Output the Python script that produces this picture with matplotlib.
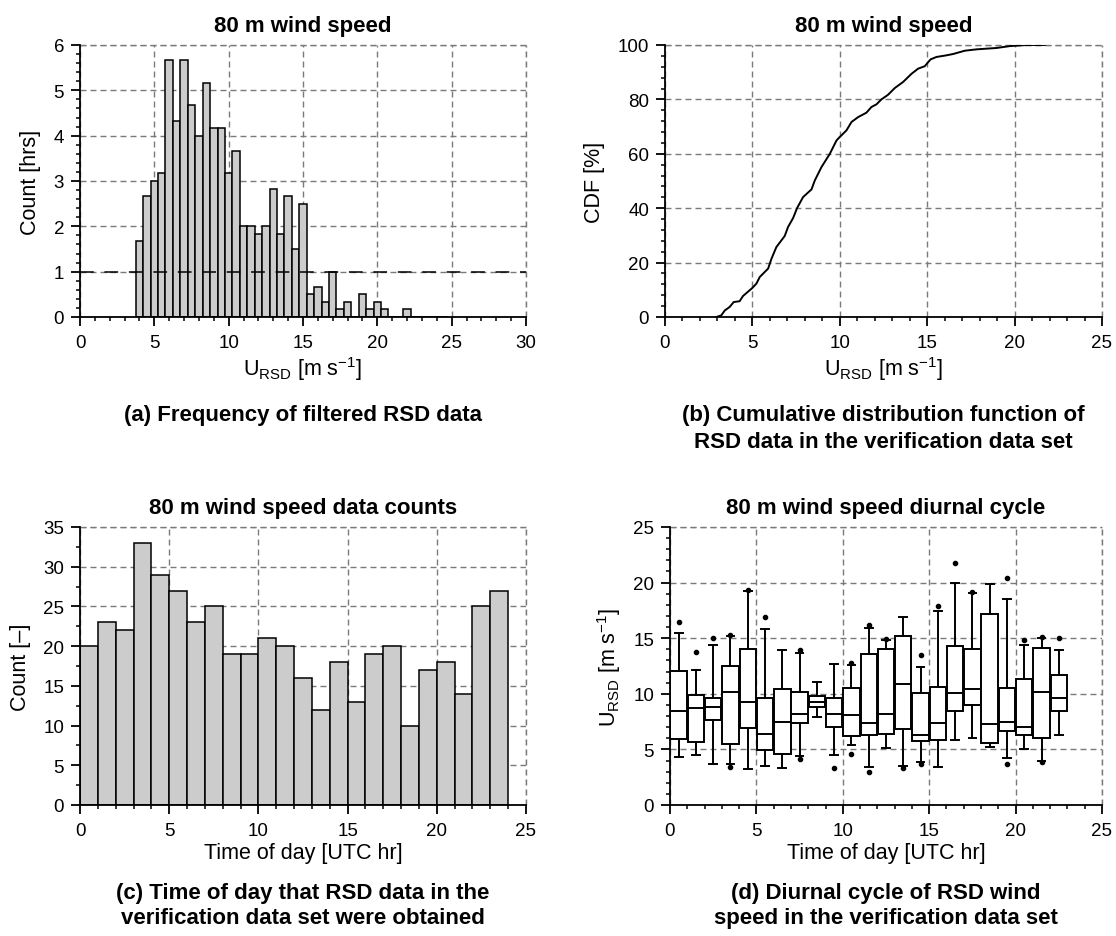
import numpy as np
import matplotlib
matplotlib.use("Agg")
import matplotlib.pyplot as plt
from matplotlib.ticker import MultipleLocator

plt.rcParams['font.family'] = ['Liberation Sans', 'DejaVu Sans']
plt.rcParams['mathtext.fontset'] = 'custom'
plt.rcParams['mathtext.rm'] = 'Liberation Sans'
plt.rcParams['mathtext.it'] = 'Liberation Sans'

# ---------------- data ----------------
# (a) histogram of 80 m wind speed, bin centres [m/s] and counts [hrs]
hist_centers = [4.0, 4.5, 5.0, 5.5, 6.0, 6.5, 7.0, 7.5, 8.0, 8.5, 9.0, 9.5, 10.0, 10.5,
                11.0, 11.5, 12.0, 12.5, 13.0, 13.5, 14.0, 14.5, 15.0, 15.5, 16.0, 16.5,
                17.0, 17.5, 18.0, 18.5, 19.0, 19.5, 20.0, 20.5, 21.0, 21.5, 22.0,
                22.5, 23.0, 23.5, 24.0, 24.5]
hist_counts = [1.67, 2.67, 3.0, 3.17, 5.67, 4.33, 5.67, 4.67, 4.0, 5.17, 4.17, 4.17, 3.17, 3.67,
               2.0, 2.0, 1.83, 2.0, 2.83, 1.83, 2.67, 1.5, 2.5, 0.5, 0.67, 0.33,
               1.0, 0.17, 0.33, 0.0, 0.5, 0.17, 0.33, 0.17, 0.0, 0.0, 0.17,
               0.0, 0.0, 0.0, 0.0, 0.0]
hist_threshold = 1.0

# (b) CDF of RSD wind speed
cdf_speed = [2.94, 3.22, 3.42, 3.70, 3.93, 4.27, 4.46, 5.0, 5.23, 5.42, 5.90, 6.09, 6.37,
             6.85, 7.04, 7.33, 7.56, 7.90, 8.38, 8.57, 8.95, 9.43, 9.81, 10.0, 10.38,
             10.67, 11.05, 11.52, 11.81, 12.1, 12.38, 12.76, 13.15, 13.62, 14.1, 14.48,
             14.86, 15.19, 15.53, 16.1, 16.49, 17.15, 17.82, 18.96, 19.73, 20.68, 21.73]
cdf_pct = [0.0, 0.6, 2.4, 3.7, 5.5, 5.8, 7.7, 10.7, 12.3, 14.7, 17.8, 21.4, 25.7,
           29.8, 33.1, 36.4, 40.1, 44.1, 46.9, 50.2, 55.1, 60.0, 64.9, 66.2, 68.6,
           71.7, 73.5, 75.1, 77.2, 78.2, 80.0, 81.7, 84.2, 86.4, 89.4, 91.3,
           92.2, 94.7, 95.6, 96.2, 96.7, 97.9, 98.4, 98.9, 99.6, 100.0, 100.0]

# (c) data counts per hour of day (UTC)
hours = list(range(24))
hour_counts = [20, 23, 22, 33, 29, 27, 23, 25, 19, 19, 21, 20, 16, 12, 18, 13,
               19, 20, 10, 17, 18, 14, 25, 27]

# (d) diurnal cycle box statistics
box_hours = [0.5, 1.5, 2.5, 3.5, 4.5, 5.5, 6.5, 7.5, 8.5, 9.5, 10.5, 11.5,
             12.5, 13.5, 14.5, 15.5, 16.5, 17.5, 18.5, 19.5, 20.5, 21.5, 22.5]
box_med = [8.47, 8.74, 8.83, 10.18, 9.28, 6.38, 7.49, 8.14, 9.28, 8.17, 8.11, 7.34,
           8.17, 10.84, 6.32, 7.4, 10.09, 10.39, 7.28, 7.43, 7.0, 10.18, 9.64]
box_q1 = [5.93, 5.69, 7.63, 5.45, 6.95, 4.97, 4.61, 7.40, 8.80, 7.0, 6.17, 6.29,
          6.41, 6.86, 5.75, 5.81, 8.41, 8.95, 5.54, 6.68, 6.29, 6.02, 8.47]
box_q3 = [12.07, 9.88, 9.58, 12.54, 14.07, 9.58, 10.45, 10.12, 9.79, 9.58, 10.54, 13.62,
          14.01, 15.21, 10.03, 10.6, 14.28, 14.07, 17.16, 10.48, 11.29, 14.16, 11.68]
box_whislo = [4.28, 4.49, 3.68, 3.68, 3.2, 3.5, 3.35, 4.4, 7.93, 4.49, 5.39, 3.44,
              5.15, 3.53, 3.89, 3.44, 5.81, 6.05, 5.24, 4.25, 5.0, 3.98, 6.29]
box_whishi = [15.5, 12.13, 14.43, 15.21, 19.25, 15.81, 13.98, 13.68, 11.02, 12.72, 12.57, 15.93,
              14.88, 16.92, 12.43, 17.46, 20.0, 19.1, 19.85, 18.5, 14.37, 15.06, 13.92]
box_fliers = [[16.5], [13.74], [15.0], [15.3, 3.38], [19.3], [16.95], [], [13.98, 4.1], [],
              [3.35], [12.8, 4.61], [16.2, 3.0], [14.95], [3.29], [13.47, 3.65], [17.9],
              [21.8], [19.15], [], [20.4, 3.65], [14.85], [15.1, 3.89], [15.03]]

# ---------------- figure ----------------
W, H = 1116, 937
fig = plt.figure(figsize=(W / 100, H / 100), dpi=100)


def add_ax(left, top, right, bottom):
    return fig.add_axes([left / W, 1 - bottom / H, (right - left) / W, (bottom - top) / H])


GRID_KW = dict(color='#7a7a7a', linewidth=1.0, linestyle=(0, (4.3, 2.9)))
TITLE_FS = 16
LABEL_FS = 15.5
TICK_FS = 13.5


def style(ax, xmax, ymax, xmaj, xmin_, ymaj, ymin_):
    ax.set_xlim(0, xmax)
    ax.set_ylim(0, ymax)
    ax.xaxis.set_major_locator(MultipleLocator(xmaj))
    ax.xaxis.set_minor_locator(MultipleLocator(xmin_))
    ax.yaxis.set_major_locator(MultipleLocator(ymaj))
    ax.yaxis.set_minor_locator(MultipleLocator(ymin_))
    for s in ('top', 'right'):
        ax.spines[s].set_visible(False)
    for s in ('left', 'bottom'):
        ax.spines[s].set_linewidth(1.3)
        ax.spines[s].set_zorder(5)
    ax.tick_params(which='major', direction='out', length=6.5, width=1.3, labelsize=TICK_FS)
    ax.tick_params(axis='x', which='major', pad=6)
    ax.tick_params(axis='y', which='major', pad=5)
    ax.tick_params(which='minor', direction='out', length=3, width=1.1)
    ax.grid(True, which='major', **GRID_KW)
    ax.set_axisbelow(True)
    ax.axhline(ymax, clip_on=False, zorder=0.5, **GRID_KW)
    ax.axvline(xmax, clip_on=False, zorder=0.5, **GRID_KW)


# (a)
axa = add_ax(80, 46, 526, 318)
style(axa, 30, 6, 5, 1, 1, 0.2)
axa.bar(hist_centers, hist_counts, width=0.5, color='#cccccc', edgecolor='black', linewidth=1.1, zorder=2)
axa.axhline(hist_threshold, color='black', linewidth=1.1, linestyle=(0, (9, 7)), zorder=3)
axa.set_title('80 m wind speed', fontsize=TITLE_FS, fontweight='bold', pad=10)
axa.set_xlabel(r'U$_{\mathrm{RSD}}$ [m s$^{-1}$]', fontsize=LABEL_FS, labelpad=2)
axa.set_ylabel('Count [hrs]', fontsize=LABEL_FS, labelpad=9)
fig.text(303 / W, 1 - 415 / H, '(a) Frequency of filtered RSD data', ha='center', va='center',
         fontsize=TITLE_FS, fontweight='bold')

# (b)
axb = add_ax(665, 46, 1102, 318)
style(axb, 25, 100, 5, 1, 20, 4)
axb.plot(cdf_speed, cdf_pct, color='black', linewidth=1.4, zorder=3)
axb.set_title('80 m wind speed', fontsize=TITLE_FS, fontweight='bold', pad=10)
axb.set_xlabel(r'U$_{\mathrm{RSD}}$ [m s$^{-1}$]', fontsize=LABEL_FS, labelpad=2)
axb.set_ylabel('CDF [%]', fontsize=LABEL_FS, labelpad=9)
fig.text(883 / W, 1 - 429 / H, '(b) Cumulative distribution function of\nRSD data in the verification data set',
         ha='center', va='center', fontsize=TITLE_FS, fontweight='bold', linespacing=1.35)

# (c)
axc = add_ax(80, 528, 526, 806)
style(axc, 25, 35, 5, 1, 5, 2.5)
axc.bar(hours, hour_counts, width=1.0, align='edge', color='#cccccc', edgecolor='black', linewidth=1.1, zorder=2)
axc.set_title('80 m wind speed data counts', fontsize=TITLE_FS, fontweight='bold', pad=10)
axc.set_xlabel('Time of day [UTC hr]', fontsize=LABEL_FS, labelpad=2)
axc.set_ylabel('Count [\u2013]', fontsize=LABEL_FS, labelpad=9)
fig.text(303 / W, 1 - 906 / H, '(c) Time of day that RSD data in the\nverification data set were obtained',
         ha='center', va='center', fontsize=TITLE_FS, fontweight='bold', linespacing=1.3)

# (d)
axd = add_ax(670, 528, 1102, 806)
style(axd, 25, 25, 5, 1, 5, 1)
stats = []
for i in range(len(box_hours)):
    stats.append(dict(med=box_med[i], q1=box_q1[i], q3=box_q3[i],
                      whislo=box_whislo[i], whishi=box_whishi[i], fliers=box_fliers[i]))
axd.bxp(stats, positions=box_hours, widths=0.95, showfliers=True, patch_artist=True,
        boxprops=dict(facecolor='white', edgecolor='black', linewidth=1.4),
        medianprops=dict(color='black', linewidth=1.4),
        whiskerprops=dict(color='black', linewidth=1.4),
        capprops=dict(color='black', linewidth=1.4),
        capwidths=0.45,
        flierprops=dict(marker='o', markersize=3, markerfacecolor='black', markeredgecolor='black'),
        manage_ticks=False, zorder=3)
axd.set_xlim(0, 25)
axd.set_title('80 m wind speed diurnal cycle', fontsize=TITLE_FS, fontweight='bold', pad=10)
axd.set_xlabel('Time of day [UTC hr]', fontsize=LABEL_FS, labelpad=2)
axd.set_ylabel(r'U$_{\mathrm{RSD}}$ [m s$^{-1}$]', fontsize=LABEL_FS, labelpad=7)
fig.text(886 / W, 1 - 906 / H, '(d) Diurnal cycle of RSD wind\nspeed in the verification data set',
         ha='center', va='center', fontsize=TITLE_FS, fontweight='bold', linespacing=1.3)

fig.savefig('out.png', dpi=100)
